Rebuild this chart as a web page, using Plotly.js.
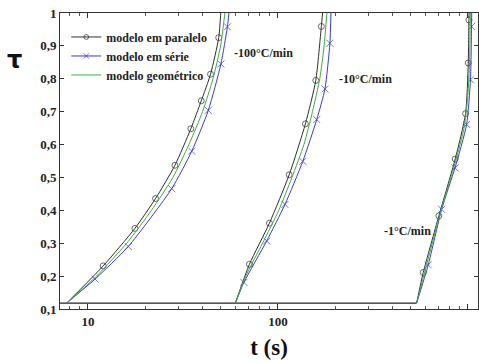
<!DOCTYPE html>
<html><head><meta charset="utf-8">
<script src="https://cdn.plot.ly/plotly-3.0.1.min.js"></script>
<style>html,body{margin:0;padding:0;background:#fff}#chart{width:479px;height:363px}</style>
</head><body><div id="chart"></div>
<script>
const modelNames = ['modelo em paralelo', 'modelo em série', 'modelo geométrico'];
const rateLabels = ['-100°C/min', '-10°C/min', '-1°C/min'];
const xTickVals = [10, 100, 1000];
const yTickStep = 0.1;

// baseline (flat part before crystallisation starts)
const baseT   = [7.0, 537];
const baseTau = [0.118, 0.118];

// -100 °C/min
const t100Par   = [7.73, 12.03, 17.66, 22.7, 28.7, 34.8, 39.5, 44.2, 48.8, 50.0];
const tau100Par = [0.118, 0.231, 0.345, 0.436, 0.537, 0.648, 0.733, 0.814, 0.925, 1.0];
const t100Ser   = [7.73, 10.9, 16.3, 27.6, 35.2, 43.0, 50.1, 54.2, 55.2];
const tau100Ser = [0.118, 0.191, 0.29, 0.466, 0.58, 0.704, 0.845, 0.958, 1.0];
const t100Geo   = [7.73, 11.1, 16.0, 21.6, 28.0, 34.0, 40.1, 45.5, 49.9, 52.6];
const tau100Geo = [0.118, 0.2, 0.3, 0.4, 0.5, 0.6, 0.7, 0.8, 0.9, 1.0];

// -10 °C/min
const t10Par   = [59.7, 70.8, 90.2, 114.6, 139.5, 158.2, 169.2, 171.9];
const tau10Par = [0.118, 0.236, 0.361, 0.508, 0.663, 0.795, 0.959, 1.0];
const t10Ser   = [59.7, 66.2, 87.3, 108.9, 135.2, 160.0, 176.8, 187.7, 190.1];
const tau10Ser = [0.118, 0.181, 0.307, 0.418, 0.549, 0.676, 0.769, 0.908, 1.0];
const t10Geo   = [59.7, 67.7, 83, 101, 118.5, 137, 152, 166, 175, 181];
const tau10Geo = [0.118, 0.2, 0.3, 0.4, 0.5, 0.6, 0.7, 0.8, 0.9, 1.0];

// -1 °C/min
const t1Par   = [537, 582, 703, 857, 972, 1004, 1012, 1014];
const tau1Par = [0.118, 0.211, 0.383, 0.556, 0.694, 0.848, 0.979, 1.0];
const t1Ser   = [537, 618, 727, 855, 984, 1031, 1045, 1047];
const tau1Ser = [0.118, 0.234, 0.403, 0.529, 0.661, 0.797, 0.959, 1.0];
const t1Geo   = [537, 616, 684, 766, 862, 954, 999, 1020, 1027, 1030];
const tau1Geo = [0.118, 0.25, 0.35, 0.45, 0.55, 0.65, 0.75, 0.85, 0.95, 1.0];

const series = [
  [[t100Par, tau100Par], [t100Ser, tau100Ser], [t100Geo, tau100Geo]],
  [[t10Par, tau10Par], [t10Ser, tau10Ser], [t10Geo, tau10Geo]],
  [[t1Par, tau1Par], [t1Ser, tau1Ser], [t1Geo, tau1Geo]]
];

const SERIF = '"Liberation Serif", "Times New Roman", Times, serif';

const styles = [
  {color: '#2e2e2e', symbol: 'circle-open', size: 6},
  {color: '#3b3bd6', symbol: 'x-thin-open', size: 7},
  {color: '#3fae3f', symbol: null, size: 0}
];

const traces = [];
traces.push({
  x: baseT, y: baseTau, mode: 'lines', showlegend: false, hoverinfo: 'skip',
  line: {color: '#222', width: 1.2}
});
series.forEach((grp, r) => {
  grp.forEach((s, m) => {
    const st = styles[m];
    const tr = {
      x: s[0], y: s[1], name: modelNames[m], legendgroup: 'm' + m,
      showlegend: r === 0,
      line: {color: st.color, width: 1, shape: 'spline', smoothing: 0.6}
    };
    if (st.symbol) {
      tr.mode = 'lines+markers';
      tr.marker = {
        symbol: st.symbol, color: st.color,
        size: s[0].map((v, i) => (i === 0 || i === s[0].length - 1) ? 0 : st.size),
        line: {color: st.color, width: 1}
      };
    } else {
      tr.mode = 'lines';
    }
    traces.push(tr);
  });
});

const minorVals = [];
[1, 10, 100].forEach(d => { for (let k = 2; k <= 9; k++) minorVals.push(k * d); });

const annPos = [
  {x: 1.758, y: 0.879, xanchor: 'left'},
  {x: 2.311, y: 0.800, xanchor: 'left'},
  {x: 2.816, y: 0.336, xanchor: 'right'}
];
const annotations = rateLabels.map((txt, i) => ({
  text: txt, x: annPos[i].x, y: annPos[i].y, xref: 'x', yref: 'y',
  xanchor: annPos[i].xanchor, yanchor: 'middle', showarrow: false,
  font: {family: SERIF, size: 12, color: '#222', weight: 'bold'}
}));
annotations.push({
  text: 'τ', xref: 'paper', yref: 'paper', x: -0.108, y: 0.84,
  xanchor: 'center', yanchor: 'middle', showarrow: false,
  font: {family: 'DejaVu Sans', size: 24, color: '#111', weight: 'bold'}
});

const layout = {
  width: 479, height: 363,
  margin: {l: 60, r: 1, t: 13, b: 54},
  paper_bgcolor: '#fff', plot_bgcolor: '#fff',
  separators: ', ',
  font: {family: SERIF, color: '#222'},
  showlegend: true,
  legend: {
    x: 0.015, y: 0.968, xanchor: 'left', yanchor: 'top',
    bgcolor: 'rgba(255,255,255,0)', borderwidth: 0,
    font: {family: SERIF, size: 12, color: '#222', weight: 'bold'},
    itemwidth: 30, tracegroupgap: 0
  },
  xaxis: {
    type: 'log', range: [0.853, 3.053],
    tickmode: 'array', tickvals: xTickVals,
    ticks: 'inside', ticklen: 5, tickcolor: '#333',
    mirror: 'allticks', showline: true, linecolor: '#333', linewidth: 1,
    showgrid: false, zeroline: false,
    tickfont: {family: SERIF, size: 13, color: '#222', weight: 'bold'},
    minor: {tickmode: 'array', tickvals: minorVals, ticks: 'inside', ticklen: 3, tickcolor: '#555', showgrid: false},
    title: {text: 't (s)', standoff: 11, font: {family: SERIF, size: 23, color: '#111', weight: 'bold'}}
  },
  yaxis: {
    range: [0.1, 1.0], tick0: 0.1, dtick: yTickStep,
    ticks: 'inside', ticklen: 4, tickcolor: '#333',
    mirror: 'allticks', showline: true, linecolor: '#333', linewidth: 1,
    showgrid: false, zeroline: false,
    tickfont: {family: SERIF, size: 13, color: '#222', weight: 'bold'}
  },
  annotations: annotations
};

Plotly.newPlot('chart', traces, layout, {displayModeBar: false, staticPlot: true});
</script>
</body></html>
